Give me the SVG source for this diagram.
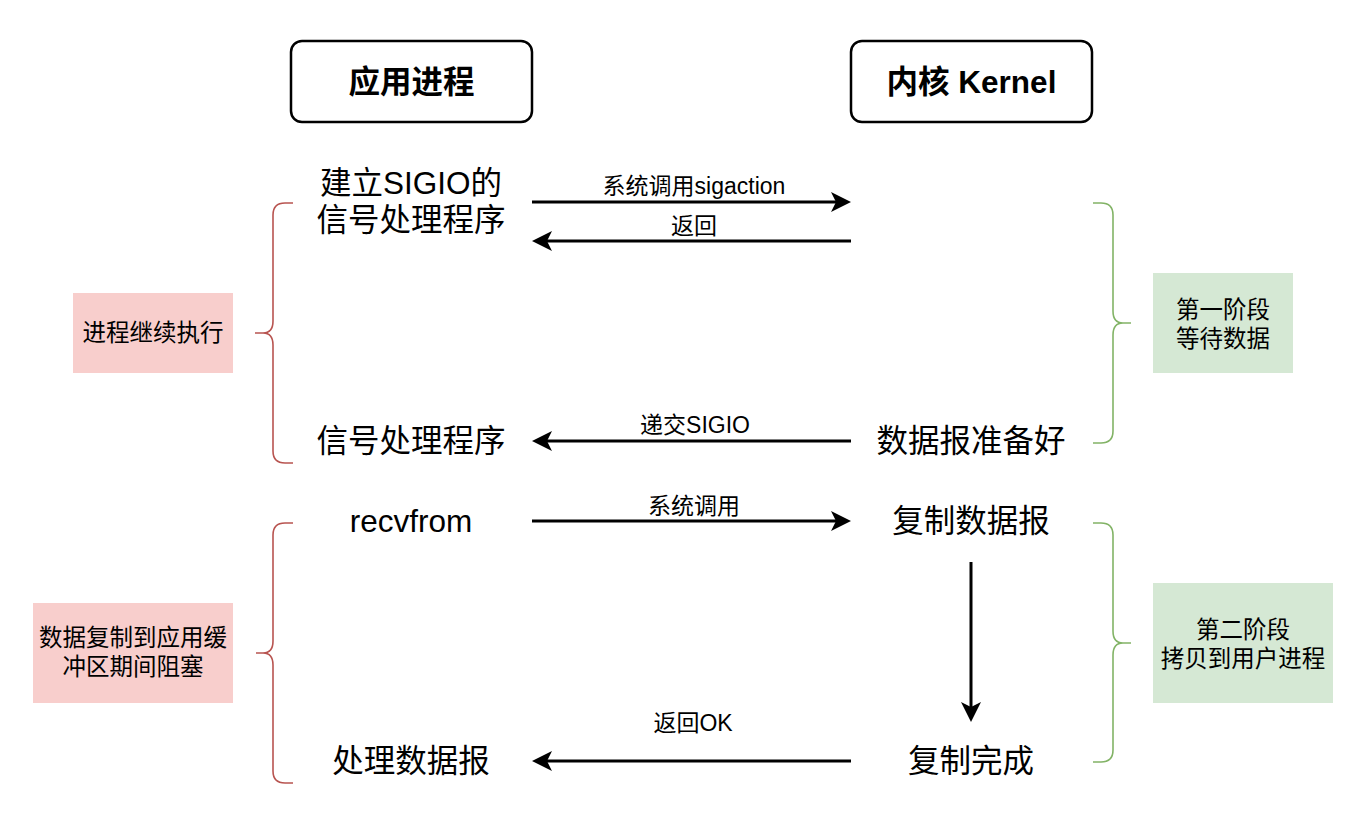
<svg xmlns="http://www.w3.org/2000/svg" width="1368" height="816" viewBox="0 0 1368 816">
<style>
text{font-family:"Liberation Sans","Noto Sans CJK SC",sans-serif;fill:#000;text-anchor:middle;dominant-baseline:central}
.hdr{font-size:31.5px;font-weight:bold}
.main{font-size:31.5px}
.lbl{font-size:23px}
.box{font-size:23.5px}
.hbox{fill:#fff;stroke:#000;stroke-width:2.5}
.edge{stroke:#000;stroke-width:3;fill:none}
.br-red{stroke:#b85450;stroke-width:1.6;fill:none}
.br-green{stroke:#82b366;stroke-width:1.6;fill:none}
</style>
<defs>
<marker id="ah" viewBox="0 0 20 20" markerWidth="20" markerHeight="20" refX="5" refY="10" orient="auto" markerUnits="userSpaceOnUse">
<path d="M0,0 L20,10 L0,20 L5,10 Z" fill="#000"/>
</marker>
</defs>
<rect width="1368" height="816" fill="#fff"/>

<g id="app-header"><rect class="hbox" x="291" y="41" width="241" height="81" rx="11"/><text class="hdr" x="411.5" y="82">应用进程</text></g>
<g id="kernel-header"><rect class="hbox" x="851" y="41" width="241" height="81" rx="11"/><text class="hdr" x="971.5" y="82">内核 Kernel</text></g>

<g id="setup-sigio"><text class="main" x="411" y="183">建立SIGIO的</text><text class="main" x="411" y="220">信号处理程序</text></g>
<g id="signal-handler"><text class="main" x="411" y="441">信号处理程序</text></g>
<g id="recvfrom"><text class="main" x="411" y="521">recvfrom</text></g>
<g id="process-datagram"><text class="main" x="411" y="761">处理数据报</text></g>
<g id="datagram-ready"><text class="main" x="971" y="441">数据报准备好</text></g>
<g id="copy-datagram"><text class="main" x="971" y="521">复制数据报</text></g>
<g id="copy-done"><text class="main" x="971" y="761">复制完成</text></g>

<g id="note-continue"><rect x="73" y="293" width="160" height="80" fill="#f8cecc"/><text class="box" x="153" y="333">进程继续执行</text></g>
<g id="note-blocked"><rect x="33" y="603" width="200" height="100" fill="#f8cecc"/><text class="box" x="133" y="638">数据复制到应用缓</text><text class="box" x="133" y="667">冲区期间阻塞</text></g>
<g id="note-phase1"><rect x="1153" y="273" width="140" height="100" fill="#d5e8d4"/><text class="box" x="1223" y="310">第一阶段</text><text class="box" x="1223" y="339">等待数据</text></g>
<g id="note-phase2"><rect x="1153" y="583" width="180" height="120" fill="#d5e8d4"/><text class="box" x="1243" y="630">第二阶段</text><text class="box" x="1243" y="659">拷贝到用户进程</text></g>

<g id="brace-left-1"><path class="br-red" d="M293,203 H285 Q273,203 273,215 V321 Q273,333 263,333 H255 H263 Q273,333 273,345 V451 Q273,463 285,463 H293"/></g>
<g id="brace-left-2"><path class="br-red" d="M293,523 H285 Q273,523 273,535 V641 Q273,653 263,653 H256 H263 Q273,653 273,665 V771 Q273,783 285,783 H293"/></g>
<g id="brace-right-1"><path class="br-green" d="M1093,203 H1101 Q1113,203 1113,215 V311 Q1113,323 1123,323 H1131 H1123 Q1113,323 1113,335 V431 Q1113,443 1101,443 H1093"/></g>
<g id="brace-right-2"><path class="br-green" d="M1093,523 H1101 Q1113,523 1113,535 V631 Q1113,643 1123,643 H1131 H1123 Q1113,643 1113,655 V750 Q1113,762 1101,762 H1093"/></g>

<g id="connectors">
<line class="edge" x1="532" y1="202" x2="836" y2="202" marker-end="url(#ah)"/>
<text class="lbl" x="694" y="186">系统调用sigaction</text>
<line class="edge" x1="851" y1="241" x2="547" y2="241" marker-end="url(#ah)"/>
<text class="lbl" x="694" y="226">返回</text>
<line class="edge" x1="851" y1="441" x2="547" y2="441" marker-end="url(#ah)"/>
<text class="lbl" x="695" y="425">递交SIGIO</text>
<line class="edge" x1="532" y1="521" x2="836" y2="521" marker-end="url(#ah)"/>
<text class="lbl" x="694" y="506">系统调用</text>
<line class="edge" x1="971" y1="562" x2="971" y2="707" marker-end="url(#ah)"/>
<line class="edge" x1="851" y1="761" x2="547" y2="761" marker-end="url(#ah)"/>
<text class="lbl" x="693" y="723">返回OK</text>
</g>
</svg>
